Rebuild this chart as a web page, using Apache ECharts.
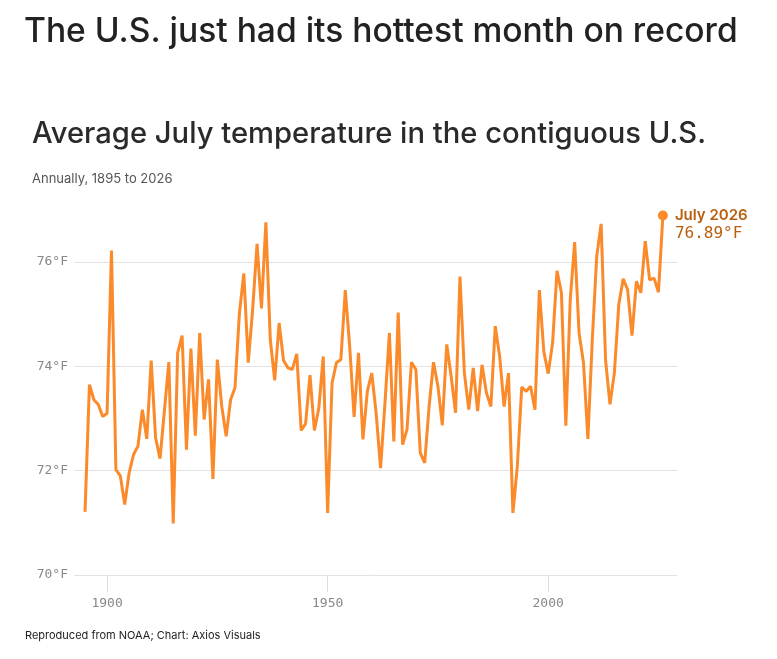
<!DOCTYPE html>
<html>
<head>
<meta charset="utf-8">
<script src="https://cdn.jsdelivr.net/npm/echarts@6/dist/echarts.min.js"></script>
<style>
  html, body { margin: 0; padding: 0; background: #fff; }
  #chart { width: 777px; height: 659px; }
</style>
</head>
<body>
<div id="chart"></div>
<script>
// July average temperature, contiguous U.S. (°F), 1895 -> 2026
var firstYear = 1895;
var julyTemps = [
  71.21, 73.65, 73.36, 73.27, 73.04, 73.10, 76.22, 72.02, 71.90, 71.35,
  71.96, 72.31, 72.47, 73.17, 72.61, 74.11, 72.63, 72.23, 73.15, 74.08,
  70.99, 74.26, 74.59, 72.40, 74.34, 72.67, 74.64, 72.98, 73.75, 71.84,
  74.13, 73.23, 72.66, 73.36, 73.59, 75.02, 75.78, 74.07, 75.09, 76.35,
  75.11, 76.76, 74.51, 73.73, 74.83, 74.11, 73.97, 73.94, 74.24, 72.77,
  72.90, 73.83, 72.77, 73.20, 74.19, 71.19, 73.68, 74.07, 74.13, 75.46,
  74.38, 73.03, 74.26, 72.60, 73.52, 73.87, 73.10, 72.05, 73.30, 74.64,
  72.56, 75.03, 72.50, 72.79, 74.08, 73.94, 72.34, 72.15, 73.23, 74.08,
  73.62, 72.87, 74.42, 73.81, 73.11, 75.72, 73.87, 73.17, 73.97, 73.14,
  74.03, 73.49, 73.23, 74.77, 74.19, 73.23, 73.87, 71.19, 72.08, 73.60,
  73.52, 73.62, 73.17, 75.46, 74.29, 73.86, 74.45, 75.83, 75.41, 72.86,
  75.28, 76.38, 74.64, 74.07, 72.61, 74.51, 76.11, 76.73, 74.13, 73.27,
  73.87, 75.18, 75.68, 75.47, 74.59, 75.63, 75.41, 76.40, 75.66, 75.69,
  75.42, 76.89
];
var yearTicks = [1900, 1950, 2000];

var orange = '#fb8a2b';
var annoColor = '#b9600e';
var mono = '"DejaVu Sans Mono", "Liberation Mono", monospace';
var sans = 'Inter, "Noto Sans", sans-serif';

var points = julyTemps.map(function (t, i) { return [firstYear + i, t]; });
var last = points.length - 1;
var seriesData = points.map(function (p, i) {
  if (i !== last) return p;
  // only the latest month gets a dot and a label
  return {
    value: p,
    symbol: 'circle',
    symbolSize: 10,
    itemStyle: { color: orange },
    label: {
      show: true,
      position: 'right',
      distance: 7,
      offset: [0, 9],
      formatter: '{a|July ' + p[0] + '}\n{b|' + p[1].toFixed(2) + '°F}',
      rich: {
        a: { fontFamily: sans, fontWeight: 600, fontSize: 15, color: annoColor, lineHeight: 18 },
        b: { fontFamily: mono, fontSize: 16, color: annoColor, lineHeight: 18 }
      }
    }
  };
});

var chart = echarts.init(document.getElementById('chart'), null, { renderer: 'canvas' });
chart.setOption({
  animation: false,
  title: [
    { text: 'The U.S. just had its hottest month on record', left: 24, top: 15, padding: 0,
      textStyle: { fontFamily: sans, fontSize: 33.6, fontWeight: 500, color: '#222' } },
    { text: 'Average July temperature in the contiguous U.S.', left: 32, top: 120, padding: 0,
      textStyle: { fontFamily: sans, fontSize: 29.2, fontWeight: 500, color: '#2a2a2a' } },
    { text: 'Annually, 1895 to 2026', left: 32, top: 173, padding: 0,
      textStyle: { fontFamily: sans, fontSize: 13, fontWeight: 400, color: '#555' } },
    { text: 'Reproduced from NOAA; Chart: Axios Visuals', left: 25, top: 630, padding: 0,
      textStyle: { fontFamily: sans, fontSize: 11, fontWeight: 400, color: '#222' } }
  ],
  grid: { left: 74, right: 100, top: 262, bottom: 84, containLabel: false },
  xAxis: {
    type: 'value',
    min: 1892.5,
    max: 2029.2,
    axisLine: { show: false },
    splitLine: { show: false },
    axisTick: { show: true, customValues: yearTicks, length: 17, lineStyle: { color: '#ddd' } },
    axisLabel: { customValues: yearTicks, margin: 22, fontFamily: mono, fontSize: 13, color: '#888',
      formatter: function (v) { return String(v); } }
  },
  yAxis: {
    type: 'value',
    min: 70,
    max: 76,
    interval: 2,
    axisLine: { show: false },
    axisTick: { show: false },
    splitLine: { lineStyle: { color: '#e2e2e2', width: 1 } },
    axisLabel: { margin: 6, fontFamily: mono, fontSize: 13, color: '#888',
      formatter: function (v) { return v + '°F'; } }
  },
  series: [{
    type: 'line',
    data: seriesData,
    clip: false,
    symbol: 'none',
    lineStyle: { color: orange, width: 3 },
    itemStyle: { color: orange },
    z: 3
  }]
});
</script>
</body>
</html>
